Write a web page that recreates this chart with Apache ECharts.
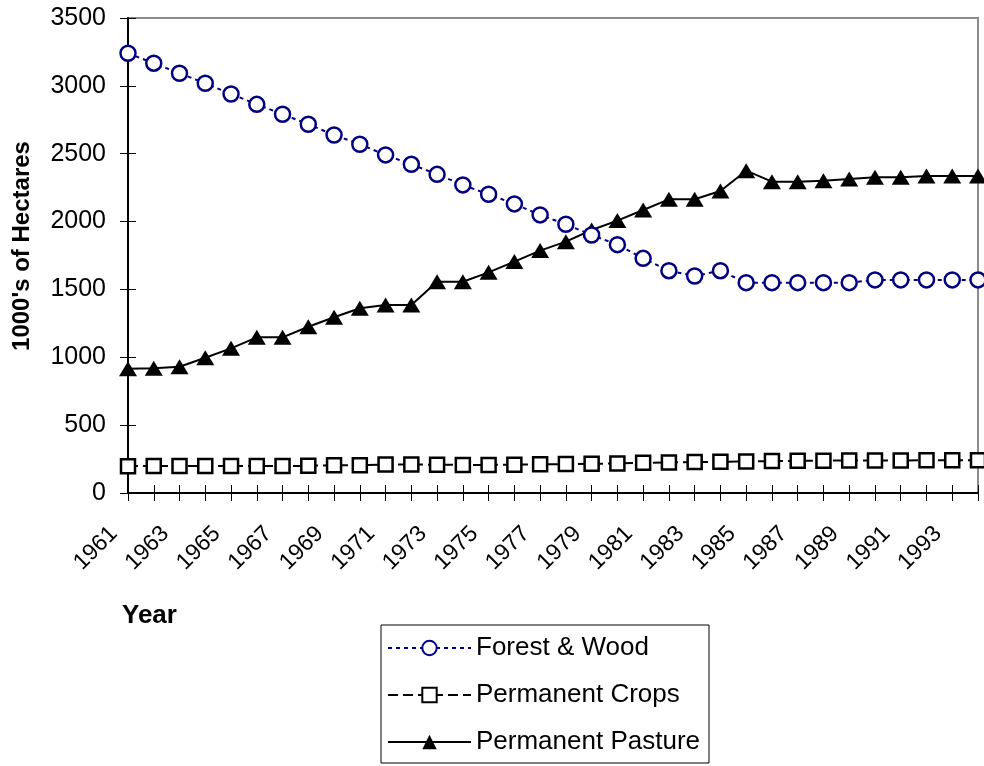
<!DOCTYPE html>
<html>
<head>
<meta charset="utf-8">
<script src="https://cdn.jsdelivr.net/npm/echarts@6/dist/echarts.min.js"></script>
<style>
html,body{margin:0;padding:0;background:#fff;}
#chart{width:984px;height:766px;}
</style>
</head>
<body>
<div id="chart"></div>
<script>
var years = ['1961','1962','1963','1964','1965','1966','1967','1968','1969','1970',
  '1971','1972','1973','1974','1975','1976','1977','1978','1979','1980',
  '1981','1982','1983','1984','1985','1986','1987','1988','1989','1990',
  '1991','1992','1993','1994'];
var forestWood = [3240,3167,3093,3019,2940,2864,2791,2717,2638,2570,
  2491,2422,2348,2270,2201,2130,2049,1980,1901,1830,
  1729,1638,1599,1638,1550,1550,1550,1550,1550,1570,
  1570,1570,1570,1570];
var permanentCrops = [198,199,199,199,199,199,199,200,205,205,
  210,210,208,207,207,209,212,213,215,218,
  222,225,228,230,232,235,237,238,240,240,
  240,241,241,242];
var permanentPasture = [915,920,930,997,1066,1147,1147,1225,1295,1361,
  1385,1385,1557,1557,1626,1705,1786,1852,1938,2007,
  2085,2164,2164,2225,2375,2294,2294,2301,2314,2326,
  2326,2336,2336,2336];
var seriesNames = ['Forest & Wood','Permanent Crops','Permanent Pasture'];
var yTitle = "1000's of Hectares";
var xTitle = 'Year';

var FONT = '"Liberation Sans", Arial, Helvetica, sans-serif';
var chart = echarts.init(document.getElementById('chart'), null, {renderer:'canvas'});
chart.setOption({
  animation:false,
  backgroundColor:'#fff',
  textStyle:{fontFamily:FONT},
  grid:{left:128, top:18, right:6, bottom:273, show:true, borderColor:'#8c8c8c', borderWidth:2, backgroundColor:'#fff'},
  xAxis:[{
    type:'category', data:years, boundaryGap:false,
    axisLine:{lineStyle:{color:'#000', width:2}},
    axisTick:{interval:0, length:8, lineStyle:{color:'#000', width:1}},
    axisLabel:{interval:1, rotate:45, margin:23, padding:[0,20,0,0], color:'#000', fontSize:23, fontFamily:FONT},
    splitLine:{show:false}
  },{
    type:'category', data:years, boundaryGap:false, position:'bottom',
    axisLine:{show:false},
    axisTick:{show:true, inside:true, interval:0, length:8, lineStyle:{color:'#000', width:1}},
    axisLabel:{show:false}, splitLine:{show:false}
  }],
  yAxis:[{
    type:'value', min:0, max:3500, interval:500,
    axisLine:{show:true, lineStyle:{color:'#000', width:2}},
    axisTick:{show:true, length:8, lineStyle:{color:'#000', width:1}},
    axisLabel:{margin:22, color:'#000', fontSize:25, fontFamily:FONT,
      formatter:function(v){return String(v);}},
    splitLine:{show:false}
  },{
    type:'value', min:0, max:3500, interval:500, position:'left',
    axisLine:{show:false},
    axisTick:{show:true, inside:true, length:8, lineStyle:{color:'#000', width:1}},
    axisLabel:{show:false}, splitLine:{show:false}
  }],
  legend:{
    orient:'vertical', left:381, top:625,
    backgroundColor:'#fff', borderColor:'#000', borderWidth:1,
    padding:[10,9,8,6], itemGap:21,
    itemWidth:83, itemHeight:18,
    textStyle:{fontSize:26, color:'#000', fontFamily:FONT},
    data:seriesNames
  },
  graphic:[{
    type:'text', left:122, top:603,
    style:{text:xTitle, fill:'#000', font:'bold 26px ' + FONT}
  },{
    type:'text', x:22, y:246, rotation:Math.PI/2,
    style:{text:yTitle, fill:'#000', font:'bold 24px ' + FONT, align:'center', verticalAlign:'middle'}
  }],
  series:[{
    name:seriesNames[0], type:'line', data:forestWood,
    symbol:'circle', symbolSize:15, showAllSymbol:true,
    lineStyle:{color:'#000080', width:2, type:[4,4]},
    itemStyle:{color:'#fff', borderColor:'#000080', borderWidth:2.5},
    z:3
  },{
    name:seriesNames[1], type:'line', data:permanentCrops,
    symbol:'rect', symbolSize:14, showAllSymbol:true,
    lineStyle:{color:'#000', width:2, type:[10,5]},
    itemStyle:{color:'#fff', borderColor:'#000', borderWidth:2.5},
    z:2
  },{
    name:seriesNames[2], type:'line', data:permanentPasture,
    symbol:'triangle', symbolSize:[18,15], showAllSymbol:true,
    lineStyle:{color:'#000', width:2, type:'solid'},
    itemStyle:{color:'#000', borderColor:'#000', borderWidth:0},
    z:2
  }]
});
</script>
</body>
</html>
